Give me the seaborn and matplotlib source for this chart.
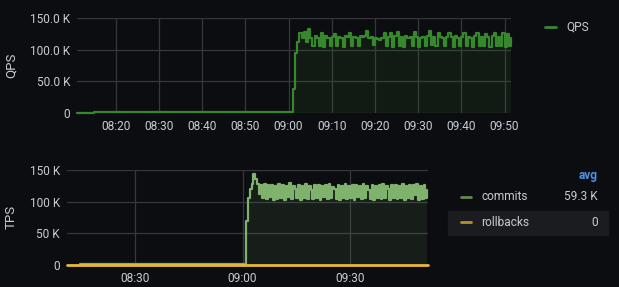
import matplotlib
matplotlib.use("Agg")
import matplotlib.pyplot as plt
import matplotlib.dates as mdates
import matplotlib.patches as mpatches
import seaborn as sns
import pandas as pd
import numpy as np

# ---------------- data ----------------
DAY = "2024-01-01 "
# QPS (thousands)
qps_pre_times = ["08:11:00", "08:14:40", "08:14:50"]
qps_pre_vals = [0, 0, 1.5]
qps_start = "09:00:30"  # 30 s sampling from here
qps_vals = [1.5, 38, 95, 112, 126, 118, 128, 112, 133, 119,
            105, 121, 119, 106, 126, 104, 121, 119, 106, 120,
            125, 105, 120, 119, 104, 121, 120, 127, 106, 120,
            119, 105, 121, 120, 122, 130, 119, 120, 107, 118,
            117, 116, 119, 126, 105, 120, 127, 104, 121, 128,
            106, 120, 104, 121, 119, 120, 105, 128, 120, 104,
            119, 120, 106, 122, 130, 107, 120, 105, 127, 120,
            119, 105, 120, 126, 120, 104, 121, 119, 106, 120,
            127, 105, 120, 119, 104, 121, 127, 106, 120, 105,
            125, 120, 104, 121, 127, 106, 120, 105, 127, 104,
            125, 106, 118]

# TPS (thousands)
commits_pre_times = ["08:14:40"]
commits_pre_vals = [1.5]
commits_start = "09:00:30"
commits_vals = [1.5, 70, 105, 120, 128, 143, 136, 128, 112, 127,
                105, 128, 104, 126, 108, 127, 103, 125, 104, 128,
                106, 126, 103, 124, 107, 129, 104, 125, 120, 105,
                127, 103, 124, 106, 128, 104, 125, 119, 104, 126,
                105, 127, 103, 124, 108, 126, 104, 128, 105, 123,
                120, 104, 127, 103, 125, 106, 128, 104, 124, 105,
                126, 103, 127, 107, 125, 104, 128, 105, 124, 118,
                104, 127, 103, 125, 106, 126, 104, 128, 105, 124,
                120, 103, 126, 105, 127, 104, 125, 106, 128, 103,
                124, 105, 127, 104, 126, 110, 128, 103, 125, 104,
                127, 105, 118]
rollback_times = ["08:11:00", "09:51:45"]
rollback_vals = [0, 0]

qps_yticks = [0, 50, 100, 150]
qps_yticklabels = ["0", "50.0 K", "100.0 K", "150.0 K"]
tps_yticks = [0, 50, 100, 150]
tps_yticklabels = ["0", "50 K", "100 K", "150 K"]
legend_avg = {"commits": "59.3 K", "rollbacks": "0"}


def build(pre_t, pre_v, start, vals):
    t_pre = pd.to_datetime([DAY + t for t in pre_t])
    t_main = pd.date_range(DAY + start, periods=len(vals), freq="30s")
    return pd.DataFrame({"time": t_pre.append(t_main),
                         "value": list(pre_v) + list(vals)})


qps_df = build(qps_pre_times, qps_pre_vals, qps_start, qps_vals)
com_df = build(commits_pre_times, commits_pre_vals, commits_start, commits_vals)
rb_df = pd.DataFrame({"time": pd.to_datetime([DAY + t for t in rollback_times]),
                      "value": rollback_vals})

# ---------------- style ----------------
BG = "#0c0d10"
TXT = "#c8ccd4"
GRID = "#35373b"
QPS_C = "#37872D"
COM_C = "#7EB26D"
RB_C = "#EAB839"

sns.set_theme(style="dark")
plt.rcParams["font.family"] = ["Roboto", "DejaVu Sans"]
plt.rcParams["font.size"] = 8.6

fig = plt.figure(figsize=(6.19, 2.87), dpi=100, facecolor=BG)
W, H = 619, 287


def axes_px(l, t, r, b):
    return fig.add_axes([l / W, 1 - b / H, (r - l) / W, (b - t) / H])


ax1 = axes_px(77, 18, 511, 113)
ax2 = axes_px(67, 170, 428, 264.7)

x0 = pd.Timestamp(DAY + "08:11:00")
x1 = pd.Timestamp(DAY + "09:51:30")
x1b = pd.Timestamp(DAY + "09:51:45")

for ax in (ax1, ax2):
    ax.set_facecolor(BG)
    for s in ax.spines.values():
        s.set_visible(False)
    ax.grid(True, color=GRID, linewidth=0.9)
    ax.set_axisbelow(True)
    ax.tick_params(length=0, colors=TXT, labelsize=8.6, pad=5)

# top panel
sns.lineplot(data=qps_df, x="time", y="value", ax=ax1, color=QPS_C,
             linewidth=1.6, drawstyle="steps-post")
ax1.fill_between(qps_df["time"], qps_df["value"], 0, color=QPS_C,
                 alpha=0.12, linewidth=0, step="post")
ax1.set_xlim(x0, x1)
ax1.set_ylim(0, 150)
ax1.set_yticks(qps_yticks)
ax1.set_yticklabels(qps_yticklabels)
ax1.xaxis.set_major_locator(mdates.MinuteLocator(byminute=range(0, 60, 10)))
ax1.xaxis.set_major_formatter(mdates.DateFormatter("%H:%M"))
ax1.set_xlabel("")
ax1.set_ylabel("QPS", color=TXT, fontsize=9.5)
ax1.yaxis.set_label_coords(-0.136, 0.5)
for l in ax1.lines:
    l.set_clip_on(False)

# bottom panel
sns.lineplot(data=com_df, x="time", y="value", ax=ax2, color=COM_C,
             linewidth=1.6, drawstyle="steps-post")
ax2.fill_between(com_df["time"], com_df["value"], 0, color=COM_C,
                 alpha=0.1, linewidth=0, step="post")
sns.lineplot(data=rb_df, x="time", y="value", ax=ax2, color=RB_C,
             linewidth=2.0)
ax2.set_xlim(x0, x1b)
ax2.set_ylim(0, 150)
ax2.set_yticks(tps_yticks)
ax2.set_yticklabels(tps_yticklabels)
ax2.xaxis.set_major_locator(mdates.MinuteLocator(byminute=[0, 30]))
ax2.xaxis.set_major_formatter(mdates.DateFormatter("%H:%M"))
ax2.set_xlabel("")
ax2.set_ylabel("TPS", color=TXT, fontsize=9.5)
ax2.yaxis.set_label_coords(-0.136, 0.5)
for l in ax2.lines:
    l.set_clip_on(False)


# ---------------- legends ----------------
def fx(px):
    return px / W


def fy(py):
    return 1 - py / H


# top legend
fig.add_artist(plt.Line2D([fx(545), fx(556)], [fy(27), fy(27)], color=QPS_C,
                          linewidth=2))
fig.text(fx(566), fy(27), "QPS", color=TXT, fontsize=8.6, va="center", ha="left")

# bottom legend
fig.add_artist(mpatches.Rectangle((fx(448), fy(234.5)), fx(608) - fx(448),
                                  fy(210.5) - fy(234.5), color="#1b1c20",
                                  transform=fig.transFigure, zorder=0))
fig.text(fx(598), fy(175), "avg", color="#4f8fe8", fontsize=8.6,
         fontweight="bold", va="center", ha="right")
rows = [("commits", COM_C, 197), ("rollbacks", RB_C, 222)]
for name, col, py in rows:
    fig.add_artist(plt.Line2D([fx(461), fx(471)], [fy(py), fy(py)], color=col,
                              linewidth=2, alpha=0.75))
    fig.text(fx(481.5), fy(py), name, color=TXT, fontsize=8.6, va="center",
             ha="left")
    fig.text(fx(598), fy(py), legend_avg[name], color=TXT, fontsize=8.6,
             va="center", ha="right")

fig.savefig("out.png", dpi=100, facecolor=BG)
